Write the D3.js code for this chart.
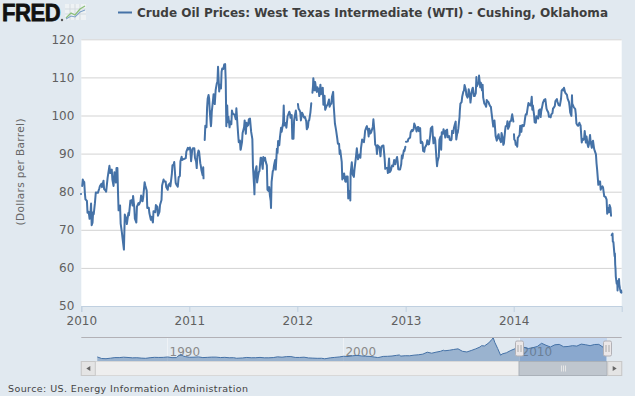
<!DOCTYPE html>
<html>
<head>
<meta charset="utf-8">
<script src="https://d3js.org/d3.v7.min.js"></script>
<style>
body { margin: 0; background: #e1e9f0; }
svg text { font-family: "DejaVu Sans", Verdana, sans-serif; }
</style>
</head>
<body>
<svg id="chart"></svg>
<script>
// axis ticks
var yTicks = [50, 60, 70, 80, 90, 100, 110, 120];
var xTickYears = [2010, 2011, 2012, 2013, 2014];
var navTickYears = [1990, 2000, 2010];

// daily WTI closes ("MM-DD", $/bbl), null = no trading
var wti2009 = [["12-31",79.4]];
var wti2010 = [["01-01",null],["01-04",81.5],["01-06",83.2],["01-08",82.8],["01-11",82.5],["01-13",79.7],["01-15",78.0],["01-20",77.6],["01-22",74.5],["01-26",74.7],["01-29",72.9],["02-01",74.4],["02-03",76.9],["02-05",71.2],["02-08",71.9],["02-10",74.6],["02-12",74.1],["02-16",77.0],["02-19",79.8],["02-24",79.7],["02-26",79.7],["03-03",80.9],["03-05",81.5],["03-10",82.1],["03-12",81.2],["03-17",82.9],["03-19",80.7],["03-24",80.3],["03-26",80.0],["03-31",83.7],["04-06",86.8],["04-09",84.9],["04-14",85.8],["04-16",83.2],["04-20",81.5],["04-23",85.1],["04-28",82.4],["04-30",86.2],["05-03",86.2],["05-05",79.9],["05-07",75.1],["05-12",76.4],["05-14",71.6],["05-18",69.4],["05-20",68.0],["05-25",64.8],["05-28",74.0],["06-02",72.9],["06-04",71.5],["06-09",74.4],["06-11",73.8],["06-16",77.7],["06-18",77.2],["06-21",77.8],["06-23",76.4],["06-25",78.9],["06-29",75.9],["07-01",72.9],["07-06",71.9],["07-08",76.1],["07-13",77.0],["07-15",76.6],["07-20",77.5],["07-22",79.0],["07-27",77.5],["07-29",78.4],["08-03",82.5],["08-05",81.7],["08-10",80.3],["08-12",75.7],["08-17",75.8],["08-19",74.4],["08-24",72.6],["08-26",73.4],["08-31",71.9],["09-02",74.9],["09-08",74.6],["09-10",76.5],["09-15",76.0],["09-17",73.7],["09-22",74.7],["09-24",76.5],["09-29",77.8],["10-01",81.6],["10-06",83.2],["10-08",82.7],["10-13",82.7],["10-15",81.2],["10-20",80.5],["10-22",81.7],["10-27",82.2],["10-29",81.4],["11-03",84.7],["11-05",86.9],["11-09",87.1],["11-11",87.8],["11-16",82.3],["11-18",81.9],["11-23",81.3],["11-26",83.8],["11-30",84.1],["12-02",88.0],["12-06",89.2],["12-08",88.3],["12-13",88.6],["12-15",88.6],["12-20",88.8],["12-22",90.5],["12-27",91.5],["12-29",91.1],["12-31",91.4]];
var wti2011 = [["01-03",91.6],["01-05",90.3],["01-07",88.0],["01-11",91.1],["01-13",91.4],["01-18",91.4],["01-20",88.9],["01-24",87.9],["01-26",86.2],["01-28",89.3],["02-01",90.8],["02-03",90.5],["02-07",87.5],["02-09",86.7],["02-11",85.6],["02-15",84.3],["02-17",86.4],["02-18",83.5],["02-21",null],["02-22",93.6],["02-24",97.3],["02-28",96.9],["03-02",102.0],["03-04",104.4],["03-07",105.4],["03-09",104.4],["03-11",101.2],["03-15",97.2],["03-16",97.9],["03-18",101.1],["03-22",104.0],["03-24",105.6],["03-28",103.0],["03-31",106.7],["04-04",108.5],["04-06",108.8],["04-08",112.8],["04-12",106.3],["04-14",108.1],["04-18",107.1],["04-20",111.5],["04-22",112.3],["04-26",112.2],["04-29",113.4],["05-02",113.5],["05-04",109.2],["05-06",97.2],["05-09",102.6],["05-11",98.2],["05-13",99.7],["05-17",96.9],["05-19",98.4],["05-23",97.7],["05-25",101.3],["05-27",100.6],["06-01",100.3],["06-03",100.2],["06-07",99.0],["06-09",101.9],["06-13",97.3],["06-15",95.0],["06-17",93.0],["06-21",93.4],["06-23",91.0],["06-24",91.2],["06-28",93.0],["06-30",95.4],["07-05",96.9],["07-07",98.7],["07-11",95.2],["07-13",98.1],["07-15",97.2],["07-19",97.5],["07-21",99.0],["07-25",99.2],["07-27",97.4],["07-29",95.7],["08-02",93.8],["08-04",86.6],["08-08",81.3],["08-09",79.3],["08-10",82.9],["08-12",85.4],["08-16",86.7],["08-18",82.4],["08-22",84.4],["08-24",85.2],["08-26",85.4],["08-30",88.9],["09-01",88.9],["09-06",86.0],["09-08",89.1],["09-12",88.2],["09-14",88.9],["09-16",87.9],["09-20",86.9],["09-22",80.5],["09-26",80.2],["09-28",81.2],["09-30",79.2],["10-03",77.6],["10-04",75.7],["10-06",82.6],["10-10",85.4],["10-12",85.6],["10-14",86.8],["10-18",88.3],["10-20",85.8],["10-24",91.3],["10-26",90.2],["10-28",93.3],["11-01",92.2],["11-03",94.1],["11-07",96.8],["11-09",95.7],["11-14",98.1],["11-16",102.6],["11-18",97.4],["11-22",98.0],["11-25",96.8],["11-29",99.8],["12-01",100.2],["12-05",101.0],["12-07",100.5],["12-09",99.4],["12-13",100.1],["12-15",93.9],["12-19",93.9],["12-21",98.7],["12-23",99.7],["12-27",101.3],["12-29",99.6],["12-30",98.8]];
var wti2012 = [["01-02",null],["01-03",103.0],["01-05",101.8],["01-09",101.3],["01-11",100.9],["01-13",98.7],["01-17",100.7],["01-19",100.4],["01-23",99.6],["01-25",99.4],["01-27",99.6],["01-31",98.5],["02-02",96.4],["02-06",97.0],["02-08",98.7],["02-10",98.7],["02-14",100.7],["02-16",102.3],["02-17",103.2],["02-20",null],["02-21",106.0],["02-23",107.8],["02-24",109.8],["02-28",106.6],["03-01",108.8],["03-05",106.7],["03-07",106.2],["03-09",107.4],["03-13",106.7],["03-15",105.1],["03-19",108.1],["03-21",105.6],["03-23",106.9],["03-27",107.3],["03-29",102.8],["04-02",105.2],["04-04",101.5],["04-09",102.5],["04-11",102.7],["04-13",103.0],["04-17",104.2],["04-19",102.3],["04-23",103.1],["04-25",103.1],["04-27",104.9],["05-01",106.2],["05-03",102.5],["05-07",97.9],["05-09",97.0],["05-11",96.1],["05-15",93.9],["05-17",92.6],["05-21",92.6],["05-23",89.9],["05-25",90.9],["05-30",87.8],["06-01",83.2],["06-05",84.3],["06-07",84.8],["06-11",82.7],["06-13",82.6],["06-15",84.0],["06-19",84.0],["06-21",78.2],["06-25",79.3],["06-27",80.3],["06-28",77.7],["06-29",84.9],["07-03",87.7],["07-06",84.5],["07-10",83.9],["07-12",85.8],["07-16",88.4],["07-18",89.9],["07-20",91.4],["07-24",88.5],["07-26",89.4],["07-30",89.8],["08-01",88.9],["08-03",91.4],["08-07",93.7],["08-09",93.4],["08-13",93.0],["08-15",94.3],["08-17",96.0],["08-21",96.9],["08-23",97.2],["08-27",96.0],["08-29",94.5],["08-31",96.5],["09-04",95.3],["09-06",95.5],["09-10",96.5],["09-12",97.0],["09-14",99.0],["09-18",95.3],["09-20",92.4],["09-24",91.9],["09-26",89.9],["09-28",92.2],["10-02",91.9],["10-04",91.7],["10-08",89.3],["10-10",91.3],["10-12",91.9],["10-16",92.1],["10-18",92.1],["10-22",88.7],["10-24",86.0],["10-26",86.3],["10-31",86.2],["11-02",84.9],["11-06",88.7],["11-08",85.1],["11-12",85.6],["11-14",86.3],["11-16",86.9],["11-20",86.7],["11-23",88.3],["11-27",87.2],["11-29",88.1],["12-03",89.1],["12-05",87.9],["12-07",85.9],["12-11",85.8],["12-13",85.8],["12-17",87.2],["12-19",89.5],["12-21",88.7],["12-26",90.9],["12-28",90.7],["12-31",91.8]];
var wti2013 = [["01-01",null],["01-02",93.1],["01-04",93.1],["01-08",93.2],["01-10",93.8],["01-14",94.1],["01-16",94.2],["01-18",95.6],["01-22",96.2],["01-24",95.9],["01-28",96.4],["01-30",97.9],["02-01",97.5],["02-05",96.6],["02-07",95.8],["02-11",97.0],["02-13",97.0],["02-15",95.9],["02-19",96.7],["02-21",92.8],["02-25",93.1],["02-27",92.8],["03-01",90.7],["03-05",90.5],["03-07",91.6],["03-11",92.1],["03-13",92.5],["03-15",93.5],["03-19",92.4],["03-21",92.5],["03-25",94.8],["03-27",96.6],["04-01",97.1],["04-03",94.5],["04-05",92.7],["04-09",94.2],["04-11",93.5],["04-15",88.7],["04-17",86.7],["04-19",88.0],["04-23",89.2],["04-25",93.6],["04-29",94.5],["05-01",91.0],["05-03",95.6],["05-07",95.2],["05-09",96.4],["05-13",95.2],["05-15",94.2],["05-17",96.0],["05-21",96.3],["05-23",94.3],["05-28",94.6],["05-30",93.6],["06-03",93.5],["06-05",93.7],["06-07",96.0],["06-11",95.4],["06-13",96.7],["06-17",97.9],["06-19",98.4],["06-21",93.7],["06-24",95.2],["06-26",95.5],["06-28",96.6],["07-02",99.6],["07-03",101.2],["07-05",103.1],["07-09",103.5],["07-11",104.9],["07-15",106.3],["07-17",106.5],["07-19",108.0],["07-23",106.9],["07-25",105.4],["07-29",104.7],["07-31",105.1],["08-02",106.9],["08-06",105.3],["08-08",103.4],["08-12",106.1],["08-14",106.9],["08-16",107.3],["08-20",105.1],["08-22",105.1],["08-26",105.9],["08-28",110.1],["08-30",107.7],["09-03",108.5],["09-05",108.4],["09-06",110.5],["09-10",107.4],["09-12",108.6],["09-16",106.6],["09-18",108.1],["09-20",104.7],["09-24",103.1],["09-26",103.0],["09-30",102.3],["10-02",104.1],["10-04",103.8],["10-08",103.5],["10-10",103.0],["10-14",102.4],["10-16",102.3],["10-18",100.8],["10-22",98.3],["10-24",97.1],["10-28",98.7],["10-30",96.8],["11-01",94.6],["11-05",93.4],["11-07",94.2],["11-11",95.1],["11-13",93.9],["11-15",93.8],["11-19",93.0],["11-21",95.4],["11-25",94.1],["11-27",92.3],["11-29",92.7],["12-03",96.0],["12-05",97.2],["12-09",97.3],["12-11",98.5],["12-13",96.5],["12-17",97.2],["12-19",98.4],["12-23",98.6],["12-27",100.3],["12-31",98.4]];
var wti2014 = [["01-01",null],["01-02",95.1],["01-03",93.7],["01-06",93.4],["01-08",92.3],["01-10",92.7],["01-13",91.8],["01-15",94.2],["01-17",94.4],["01-21",94.9],["01-23",97.3],["01-27",95.7],["01-29",97.4],["01-31",97.5],["02-04",97.2],["02-06",97.8],["02-10",100.1],["02-12",100.4],["02-14",100.3],["02-18",102.4],["02-20",103.3],["02-24",102.8],["02-26",102.6],["02-28",102.6],["03-03",104.9],["03-05",101.5],["03-07",102.6],["03-11",100.1],["03-13",98.2],["03-17",98.1],["03-19",99.8],["03-21",99.5],["03-25",99.2],["03-27",101.3],["03-31",101.6],["04-02",99.6],["04-04",101.1],["04-08",102.6],["04-10",103.4],["04-14",104.1],["04-16",103.8],["04-18",104.3],["04-22",101.8],["04-24",101.4],["04-28",100.8],["04-30",99.7],["05-02",99.8],["05-06",99.5],["05-08",100.3],["05-12",100.6],["05-14",101.9],["05-16",102.0],["05-20",102.5],["05-22",103.8],["05-27",104.3],["05-29",103.6],["06-02",102.7],["06-04",102.7],["06-06",102.6],["06-10",104.4],["06-12",106.5],["06-16",106.9],["06-18",106.6],["06-20",107.3],["06-24",106.0],["06-26",105.8],["06-30",105.4],["07-02",104.5],["07-07",103.5],["07-09",102.3],["07-11",100.8],["07-15",99.9],["07-17",105.3],["07-18",103.1],["07-22",102.4],["07-24",102.1],["07-28",101.7],["07-30",100.3],["08-01",97.9],["08-05",97.4],["08-07",97.3],["08-11",98.1],["08-13",97.6],["08-15",97.4],["08-19",92.9],["08-21",93.9],["08-25",93.6],["08-27",93.9],["08-29",95.9],["09-02",92.9],["09-04",94.5],["09-08",92.3],["09-10",91.7],["09-12",92.3],["09-16",94.9],["09-18",93.1],["09-22",91.5],["09-24",92.8],["09-26",93.4],["09-30",91.2],["10-02",90.7],["10-06",89.8],["10-08",87.4],["10-10",85.8],["10-14",81.8],["10-16",82.7],["10-20",82.7],["10-22",80.5],["10-24",81.0],["10-28",81.4],["10-30",81.1],["11-03",78.8],["11-05",78.7],["11-07",78.7],["11-11",77.9],["11-13",74.2],["11-17",75.7],["11-19",74.6],["11-21",76.5],["11-24",75.8],["11-26",73.7],["11-27",null],["11-28",68.6],["12-01",69.0],["12-02",66.9],["12-04",66.8],["12-05",65.8],["12-08",63.1],["12-09",63.8],["12-10",60.9],["12-11",59.9],["12-12",57.8],["12-15",55.9],["12-17",56.5],["12-18",54.1],["12-19",56.5],["12-22",55.3],["12-23",57.1],["12-24",55.7],["12-26",54.6],["12-29",53.6],["12-30",54.1],["12-31",53.5]];

// long history for the navigator strip ("YYYY-MM", $/bbl)
var navHistory = [["1986-01",22.9],["1986-04",13.0],["1986-07",11.6],["1986-10",14.9],["1987-01",18.7],["1987-04",18.6],["1987-07",21.3],["1987-10",19.5],["1988-01",17.1],["1988-04",17.9],["1988-07",15.5],["1988-10",14.1],["1989-01",18.0],["1989-04",20.4],["1989-07",19.6],["1989-10",20.1],["1990-01",22.6],["1990-04",18.4],["1990-07",18.6],["1990-08",27.2],["1990-09",33.7],["1990-10",40.4],["1990-11",32.3],["1990-12",27.3],["1991-01",25.2],["1991-04",20.8],["1991-07",21.4],["1991-10",23.2],["1992-01",18.8],["1992-04",20.2],["1992-07",21.8],["1992-10",21.7],["1993-01",19.0],["1993-04",20.3],["1993-07",17.8],["1993-10",18.1],["1993-12",14.5],["1994-01",15.0],["1994-04",16.4],["1994-07",19.7],["1994-10",17.7],["1995-01",18.0],["1995-04",19.9],["1995-07",17.3],["1995-10",17.4],["1996-01",18.9],["1996-04",23.6],["1996-07",21.3],["1996-10",24.9],["1997-01",25.2],["1997-04",19.7],["1997-07",19.6],["1997-10",21.3],["1998-01",16.7],["1998-04",15.4],["1998-07",14.1],["1998-10",14.4],["1998-12",11.3],["1999-01",12.5],["1999-04",17.3],["1999-07",20.1],["1999-10",22.8],["2000-01",27.2],["2000-04",25.7],["2000-07",30.0],["2000-10",32.9],["2001-01",29.6],["2001-04",27.4],["2001-07",26.3],["2001-10",22.2],["2001-12",19.3],["2002-01",19.7],["2002-04",26.2],["2002-07",26.9],["2002-10",28.8],["2003-01",32.9],["2003-03",35.5],["2003-04",28.2],["2003-07",30.6],["2003-10",30.3],["2004-01",34.3],["2004-04",36.7],["2004-07",40.7],["2004-10",53.1],["2005-01",46.8],["2005-04",53.2],["2005-07",58.7],["2005-09",65.6],["2005-10",62.3],["2006-01",65.5],["2006-04",70.4],["2006-07",74.4],["2006-10",58.9],["2007-01",54.5],["2007-04",63.9],["2007-07",74.1],["2007-10",86.2],["2007-11",94.6],["2008-01",93.0],["2008-04",112.6],["2008-06",133.9],["2008-07",145.3],["2008-08",116.7],["2008-10",76.6],["2008-12",33.9],["2009-01",41.7],["2009-04",49.6],["2009-07",64.2],["2009-10",75.8],["2010-01",78.3],["2010-04",84.3],["2010-07",76.4],["2010-10",81.9],["2011-01",89.5],["2011-04",110.0],["2011-07",97.3],["2011-10",86.4],["2012-01",100.2],["2012-04",102.9],["2012-07",87.9],["2012-10",89.6],["2013-01",94.8],["2013-04",92.0],["2013-07",104.7],["2013-10",100.5],["2014-01",94.6],["2014-04",102.1],["2014-07",102.9],["2014-10",84.3],["2014-12",53.5]];

var width = 635, height = 396;
var plotLeft = 81.3, plotRight = 621.7, plotTop = 39.3, plotBottom = 306;
var lineColor = "#4572a7";

var svg = d3.select("#chart").attr("width", width).attr("height", height);

// gather the daily series
var byYear = {2009: wti2009, 2010: wti2010, 2011: wti2011, 2012: wti2012, 2013: wti2013, 2014: wti2014};
var series = [];
Object.keys(byYear).forEach(function(yr) {
    byYear[yr].forEach(function(p) {
        series.push({date: new Date(+yr, +p[0].slice(0, 2) - 1, +p[0].slice(3)), v: p[1]});
    });
});

var x = d3.scaleTime().domain([new Date(2010, 0, 1), new Date(2015, 0, 1)]).range([plotLeft, plotRight]);
var y = d3.scaleLinear().domain([50, 120]).range([plotBottom, plotTop]);

// plot background
svg.append("rect")
    .attr("x", plotLeft).attr("y", plotTop)
    .attr("width", plotRight - plotLeft).attr("height", plotBottom - plotTop)
    .attr("fill", "#fff");

// y axis + gridlines
var yAxis = svg.append("g")
    .attr("transform", "translate(" + plotLeft + ",0)")
    .call(d3.axisLeft(y).tickValues(yTicks).tickSize(-(plotRight - plotLeft)).tickPadding(7));
yAxis.select(".domain").remove();
yAxis.selectAll("line").attr("stroke", "#d3d3d3");
yAxis.selectAll("text").attr("fill", "#606060").style("font-size", "12px");

// x axis
var xAxis = svg.append("g")
    .attr("transform", "translate(0," + plotBottom + ")")
    .call(d3.axisBottom(x)
        .tickValues(xTickYears.map(function(d) { return new Date(d, 0, 1); }))
        .tickFormat(d3.timeFormat("%Y"))
        .tickSize(6).tickPadding(4));
xAxis.select(".domain").attr("stroke", "#c0d0e0");
xAxis.selectAll("line").attr("stroke", "#c0d0e0");
xAxis.selectAll("text").attr("fill", "#606060").style("font-size", "12px");

// y title
svg.append("text")
    .attr("transform", "translate(24,172) rotate(-90)")
    .attr("text-anchor", "middle")
    .attr("fill", "#666")
    .style("font-size", "10.5px")
    .attr("textLength", 107)
    .text("(Dollars per Barrel)");

// price line
var line = d3.line()
    .defined(function(d) { return d.v != null; })
    .x(function(d) { return x(d.date); })
    .y(function(d) { return y(d.v); });

svg.append("path")
    .datum(series)
    .attr("d", line)
    .attr("fill", "none")
    .attr("stroke", lineColor)
    .attr("stroke-width", 2)
    .attr("stroke-linejoin", "round")
    .attr("stroke-linecap", "round");

// header: FRED logo + legend
svg.append("text")
    .attr("transform", "translate(2,21) scale(1,1.12)")
    .style("font-family", "'Liberation Sans', Arial, sans-serif")
    .style("font-size", "22px").style("font-weight", "bold")
    .attr("letter-spacing", "-0.4")
    .attr("fill", "#111").attr("stroke", "#111").attr("stroke-width", 0.7)
    .text("FRED");
svg.append("circle").attr("cx", 62).attr("cy", 20).attr("r", 1.2).attr("fill", "#555");
var icon = svg.append("g").attr("transform", "translate(65,4)");
icon.append("rect").attr("width", 21).attr("height", 16).attr("fill", "#eef2f4");
[5, 10, 15].forEach(function(g) {
    icon.append("line").attr("x1", g).attr("x2", g).attr("y1", 0).attr("y2", 16).attr("stroke", "#d4dbe0");
});
[5, 10].forEach(function(g) {
    icon.append("line").attr("x1", 0).attr("x2", 21).attr("y1", g).attr("y2", g).attr("stroke", "#d4dbe0");
});
icon.append("polyline").attr("points", "1,14 6,9 10,11 15,5 20,2").attr("fill", "none").attr("stroke", "#8cc07a").attr("stroke-width", 1.3);
icon.append("polyline").attr("points", "1,15 6,12 10,13 15,8 20,6").attr("fill", "none").attr("stroke", "#7fa3c9").attr("stroke-width", 1.1);

svg.append("line")
    .attr("x1", 118).attr("x2", 132).attr("y1", 12.5).attr("y2", 12.5)
    .attr("stroke", lineColor).attr("stroke-width", 2);
svg.append("text")
    .attr("x", 137).attr("y", 17)
    .attr("fill", "#3e3e3e")
    .style("font-size", "12px").style("font-weight", "bold")
    .attr("textLength", 471).attr("lengthAdjust", "spacingAndGlyphs")
    .text("Crude Oil Prices: West Texas Intermediate (WTI) - Cushing, Oklahoma");

// navigator
var navTop = 337, navBottom = 361;
var navX = d3.scaleTime().domain([new Date(1986, 0, 1), new Date(2015, 0, 1)]).range([96.6, 607]);
var navY = d3.scaleLinear().domain([-3, 150]).range([navBottom, navTop]);
var navData = navHistory.map(function(d) {
    return {date: new Date(+d[0].slice(0, 4), +d[0].slice(5) - 1, 15), v: d[1]};
});

// selected range mask
svg.append("rect")
    .attr("x", navX(new Date(2010, 0, 1))).attr("y", navTop)
    .attr("width", navX(new Date(2015, 0, 1)) - navX(new Date(2010, 0, 1)))
    .attr("height", navBottom - navTop)
    .attr("fill", "#c4d6ee");

var navAxis = svg.append("g")
    .attr("transform", "translate(0," + navTop + ")")
    .call(d3.axisBottom(navX)
        .tickValues(navTickYears.map(function(d) { return new Date(d, 0, 1); }))
        .tickFormat(d3.timeFormat("%Y"))
        .tickSize(navBottom - navTop));
navAxis.select(".domain").remove();
navAxis.selectAll("line").attr("stroke", "#eef2f6");
navAxis.selectAll("text")
    .attr("x", 2).attr("y", 19).attr("dy", 0)
    .attr("text-anchor", "start")
    .attr("fill", "#8a8a8a")
    .style("font-size", "12px");

svg.append("path")
    .datum(navData)
    .attr("d", d3.area()
        .x(function(d) { return navX(d.date); })
        .y0(navBottom)
        .y1(function(d) { return navY(d.v); }))
    .attr("fill", "#4572a7").attr("fill-opacity", 0.45);
svg.append("path")
    .datum(navData)
    .attr("d", d3.line()
        .x(function(d) { return navX(d.date); })
        .y(function(d) { return navY(d.v); }))
    .attr("fill", "none").attr("stroke", lineColor).attr("stroke-width", 1);

svg.append("line")
    .attr("x1", plotLeft).attr("x2", plotRight).attr("y1", navTop + 0.5).attr("y2", navTop + 0.5)
    .attr("stroke", "#b2b1b6");

// handles
[new Date(2010, 0, 1), new Date(2015, 0, 1)].forEach(function(d) {
    var hx = Math.round(navX(d)) + 0.5;
    var h = svg.append("g").attr("transform", "translate(" + hx + "," + (navTop + 12) + ")");
    h.append("rect").attr("x", -4).attr("y", -8).attr("width", 8).attr("height", 15)
        .attr("rx", 1.5).attr("fill", "#ebe7e8").attr("stroke", "#b2b1b6");
    h.append("line").attr("x1", -1.5).attr("x2", -1.5).attr("y1", -4).attr("y2", 3).attr("stroke", "#aaa");
    h.append("line").attr("x1", 1.5).attr("x2", 1.5).attr("y1", -4).attr("y2", 3).attr("stroke", "#aaa");
});

// scrollbar
var sbTop = 361.5, sbH = 14;
svg.append("rect").attr("x", plotLeft).attr("y", sbTop).attr("width", plotRight - plotLeft).attr("height", sbH)
    .attr("fill", "#eeeeee").attr("stroke", "#d8d8d8");
var thumbX0 = navX(new Date(2010, 0, 1)), thumbX1 = navX(new Date(2015, 0, 1));
svg.append("rect").attr("x", thumbX0).attr("y", sbTop).attr("width", thumbX1 - thumbX0).attr("height", sbH)
    .attr("fill", "#bfc6ce").attr("stroke", "#aab1b9");
[-2, 0, 2].forEach(function(o) {
    var gx = Math.round((thumbX0 + thumbX1) / 2) + o + 0.5;
    svg.append("line").attr("x1", gx).attr("x2", gx).attr("y1", sbTop + 4).attr("y2", sbTop + 10).attr("stroke", "#e6e6e6");
});
[[plotLeft, "M4,0 L0,2.5 L4,5 Z"], [plotRight - 14, "M0,0 L4,2.5 L0,5 Z"]].forEach(function(b) {
    svg.append("rect").attr("x", b[0]).attr("y", sbTop).attr("width", 14).attr("height", sbH)
        .attr("fill", "#e4e4e4").attr("stroke", "#c8c8c8");
    svg.append("path").attr("d", b[1])
        .attr("transform", "translate(" + (b[0] + 5) + "," + (sbTop + 4.5) + ")")
        .attr("fill", "#666");
});

// source
svg.append("text")
    .attr("x", 8).attr("y", 392)
    .attr("fill", "#444")
    .style("font-size", "9.5px")
    .attr("textLength", 240)
    .text("Source: US. Energy Information Administration");
</script>
</body>
</html>
